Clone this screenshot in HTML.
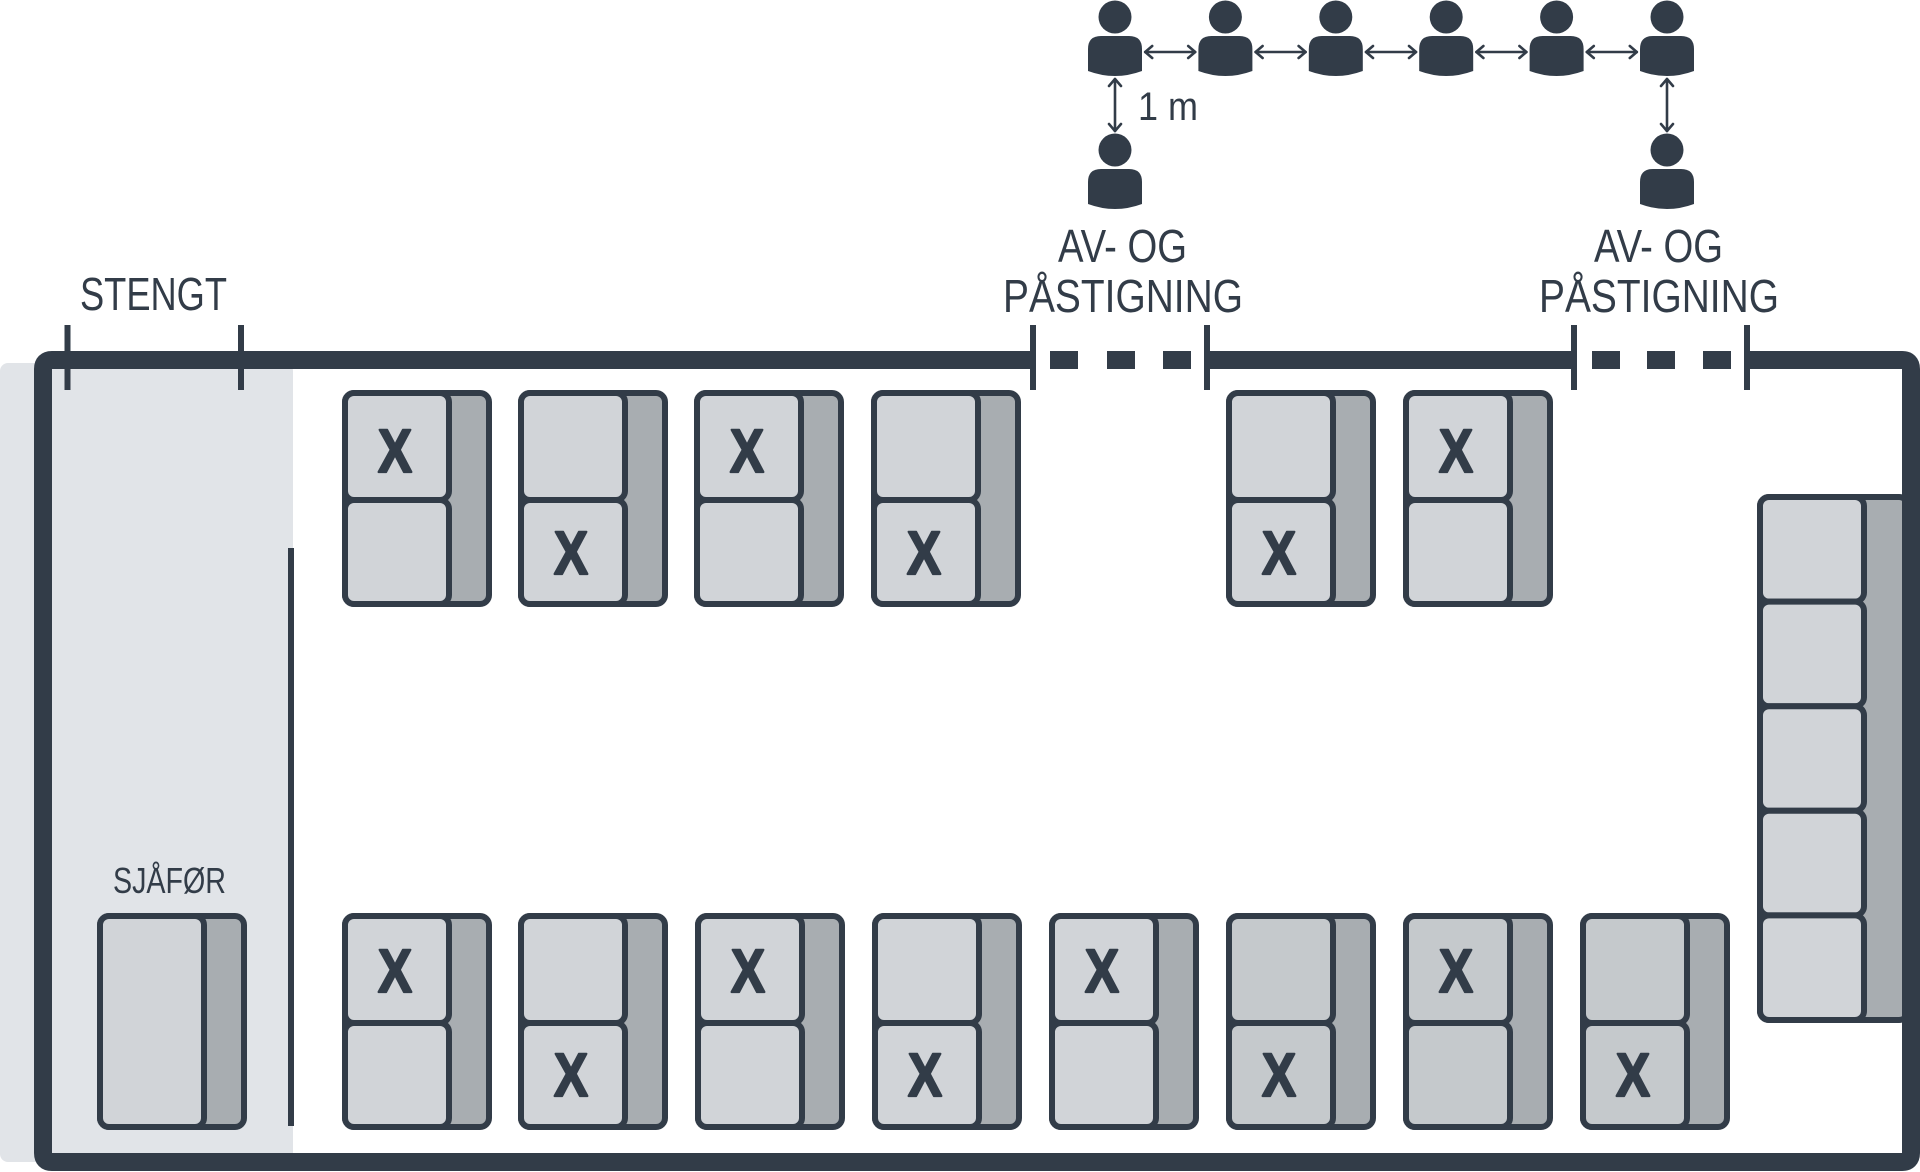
<!DOCTYPE html>
<html>
<head>
<meta charset="utf-8">
<style>
html,body{margin:0;padding:0;background:#ffffff;}
body{width:1920px;height:1172px;overflow:hidden;}
svg{display:block;}
text{font-family:"Liberation Sans",sans-serif;fill:#323c48;}
</style>
</head>
<body>
<svg width="1920" height="1172" viewBox="0 0 1920 1172" xmlns="http://www.w3.org/2000/svg">
  <defs>
    <g id="seat">
      <rect x="3" y="3" width="144" height="211" rx="9" fill="#a8adb1" stroke="#323c48" stroke-width="6"/>
      <rect x="3" y="3" width="104" height="107" rx="9" fill="#d1d4d8" stroke="#323c48" stroke-width="6"/>
      <rect x="3" y="110" width="104" height="104" rx="9" fill="#d1d4d8" stroke="#323c48" stroke-width="6"/>
    </g>
    <g id="seatD">
      <rect x="3" y="3" width="144" height="211" rx="9" fill="#a8adb1" stroke="#323c48" stroke-width="6"/>
      <rect x="3" y="3" width="104" height="107" rx="9" fill="#c5c9cc" stroke="#323c48" stroke-width="6"/>
      <rect x="3" y="110" width="104" height="104" rx="9" fill="#c5c9cc" stroke="#323c48" stroke-width="6"/>
    </g>
    <g id="person" fill="#323c48">
      <circle cx="0" cy="17" r="16.5"/>
      <path d="M-27,71 L-27,49 Q-27,36 -14,36 L14,36 Q27,36 27,49 L27,71 Q0,81 -27,71 Z"/>
    </g>
    <g id="harrow" fill="none" stroke="#323c48" stroke-width="2.6" stroke-linecap="round" stroke-linejoin="round">
      <line x1="0" y1="0" x2="50" y2="0"/>
      <polyline points="7,-6 0,0 7,6"/>
      <polyline points="43,-6 50,0 43,6"/>
    </g>
    <g id="varrow" fill="none" stroke="#323c48" stroke-width="2.6" stroke-linecap="round" stroke-linejoin="round">
      <line x1="0" y1="0" x2="0" y2="52"/>
      <polyline points="-6,7 0,0 6,7"/>
      <polyline points="-6,45 0,52 6,45"/>
    </g>
  </defs>

  <!-- gray driver zone -->
  <rect x="0" y="363" width="293" height="799" rx="8" fill="#e1e4e8"/>

  <!-- right seat stack (under border) -->
  <rect x="1760" y="497" width="148" height="523" rx="9" fill="#a8adb1" stroke="#323c48" stroke-width="6"/>
  <rect x="1760" y="497" width="104" height="104.6" rx="9" fill="#d1d4d8" stroke="#323c48" stroke-width="6"/>
  <rect x="1760" y="601.6" width="104" height="104.6" rx="9" fill="#d1d4d8" stroke="#323c48" stroke-width="6"/>
  <rect x="1760" y="706.2" width="104" height="104.6" rx="9" fill="#d1d4d8" stroke="#323c48" stroke-width="6"/>
  <rect x="1760" y="810.8" width="104" height="104.6" rx="9" fill="#d1d4d8" stroke="#323c48" stroke-width="6"/>
  <rect x="1760" y="915.4" width="104" height="104.6" rx="9" fill="#d1d4d8" stroke="#323c48" stroke-width="6"/>

  <!-- bus outline -->
  <path d="M1033 360 L52 360 Q43 360 43 369 L43 1153 Q43 1162 52 1162 L1902 1162 Q1911 1162 1911 1153 L1911 369 Q1911 360 1902 360 L1747 360" fill="none" stroke="#323c48" stroke-width="18"/>
  <path d="M1207 360 L1574 360" fill="none" stroke="#323c48" stroke-width="18"/>
  <!-- door dashes -->
  <g fill="#323c48">
    <rect x="1050" y="351" width="28" height="18"/>
    <rect x="1107" y="351" width="28" height="18"/>
    <rect x="1163" y="351" width="28" height="18"/>
    <rect x="1592" y="351" width="28" height="18"/>
    <rect x="1647" y="351" width="28" height="18"/>
    <rect x="1703" y="351" width="28" height="18"/>
    <!-- ticks -->
    <rect x="1030" y="325" width="6" height="65"/>
    <rect x="1204" y="325" width="6" height="65"/>
    <rect x="1571" y="325" width="6" height="65"/>
    <rect x="1744" y="325" width="6" height="65"/>
    <rect x="64.5" y="325" width="6" height="65"/>
    <rect x="238" y="325" width="6" height="65"/>
    <!-- divider -->
    <rect x="288" y="548" width="6" height="578"/>
  </g>

  <!-- driver seat -->
  <rect x="100" y="916" width="144" height="211" rx="9" fill="#a8adb1" stroke="#323c48" stroke-width="6"/>
  <rect x="100" y="916" width="104" height="211" rx="9" fill="#d1d4d8" stroke="#323c48" stroke-width="6"/>

  <!-- top row seats -->
  <use href="#seat" x="342" y="390"/>
  <use href="#seat" x="518" y="390"/>
  <use href="#seat" x="694" y="390"/>
  <use href="#seat" x="871" y="390"/>
  <use href="#seat" x="1226" y="390"/>
  <use href="#seat" x="1403" y="390"/>

  <!-- bottom row seats -->
  <use href="#seat" x="342" y="913"/>
  <use href="#seat" x="518" y="913"/>
  <use href="#seat" x="695" y="913"/>
  <use href="#seat" x="872" y="913"/>
  <use href="#seat" x="1049" y="913"/>
  <use href="#seatD" x="1226" y="913"/>
  <use href="#seatD" x="1403" y="913"/>
  <use href="#seatD" x="1580" y="913"/>

  <!-- X marks -->
  <g font-weight="bold" font-size="61" stroke="#323c48" stroke-width="2.2" stroke-linejoin="round">
    <text x="378" y="472" textLength="34" lengthAdjust="spacingAndGlyphs">X</text>
    <text x="554" y="574" textLength="34" lengthAdjust="spacingAndGlyphs">X</text>
    <text x="730" y="472" textLength="34" lengthAdjust="spacingAndGlyphs">X</text>
    <text x="907" y="574" textLength="34" lengthAdjust="spacingAndGlyphs">X</text>
    <text x="1262" y="574" textLength="34" lengthAdjust="spacingAndGlyphs">X</text>
    <text x="1439" y="472" textLength="34" lengthAdjust="spacingAndGlyphs">X</text>

    <text x="378" y="992" textLength="34" lengthAdjust="spacingAndGlyphs">X</text>
    <text x="554" y="1096" textLength="34" lengthAdjust="spacingAndGlyphs">X</text>
    <text x="731" y="992" textLength="34" lengthAdjust="spacingAndGlyphs">X</text>
    <text x="908" y="1096" textLength="34" lengthAdjust="spacingAndGlyphs">X</text>
    <text x="1085" y="992" textLength="34" lengthAdjust="spacingAndGlyphs">X</text>
    <text x="1262" y="1096" textLength="34" lengthAdjust="spacingAndGlyphs">X</text>
    <text x="1439" y="992" textLength="34" lengthAdjust="spacingAndGlyphs">X</text>
    <text x="1616" y="1096" textLength="34" lengthAdjust="spacingAndGlyphs">X</text>
  </g>

  <!-- labels -->
  <text x="80" y="310" font-size="46" textLength="147" lengthAdjust="spacingAndGlyphs">STENGT</text>
  <text x="1058" y="262" font-size="46" textLength="129" lengthAdjust="spacingAndGlyphs">AV- OG</text>
  <text x="1003" y="312" font-size="46" textLength="240" lengthAdjust="spacingAndGlyphs">PÅSTIGNING</text>
  <text x="1594" y="262" font-size="46" textLength="129" lengthAdjust="spacingAndGlyphs">AV- OG</text>
  <text x="1539" y="312" font-size="46" textLength="240" lengthAdjust="spacingAndGlyphs">PÅSTIGNING</text>
  <text x="113" y="893" font-size="36" textLength="113" lengthAdjust="spacingAndGlyphs">SJÅFØR</text>
  <text x="1138" y="120" font-size="40" textLength="60" lengthAdjust="spacingAndGlyphs">1 m</text>

  <!-- people -->
  <use href="#person" x="1115" y="0"/>
  <use href="#person" x="1225.4" y="0"/>
  <use href="#person" x="1335.8" y="0"/>
  <use href="#person" x="1446.2" y="0"/>
  <use href="#person" x="1556.6" y="0"/>
  <use href="#person" x="1667" y="0"/>
  <use href="#person" x="1115" y="133"/>
  <use href="#person" x="1667" y="133"/>

  <!-- arrows -->
  <use href="#harrow" x="1145.2" y="52"/>
  <use href="#harrow" x="1255.6" y="52"/>
  <use href="#harrow" x="1366" y="52"/>
  <use href="#harrow" x="1476.4" y="52"/>
  <use href="#harrow" x="1586.8" y="52"/>
  <use href="#varrow" x="1115" y="79"/>
  <use href="#varrow" x="1667" y="79"/>
</svg>
</body>
</html>
